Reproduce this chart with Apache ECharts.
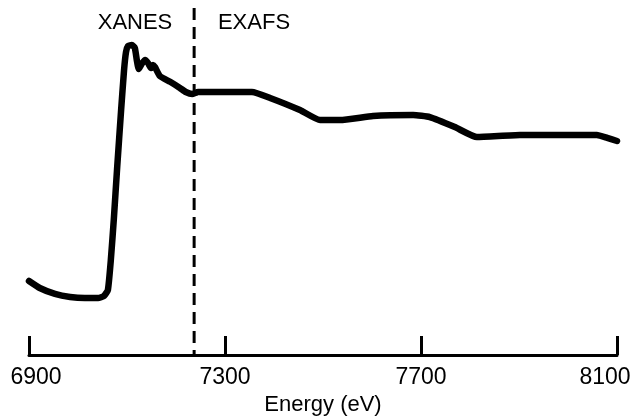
<!DOCTYPE html>
<html>
<head>
<meta charset="utf-8">
<script src="https://cdn.jsdelivr.net/npm/echarts@6/dist/echarts.min.js"></script>
<style>
  html, body { margin: 0; padding: 0; background: #fff; }
  #chart { width: 635px; height: 418px; }
</style>
</head>
<body>
<div id="chart"></div>
<script>
// X-ray absorption spectrum: energy (eV) vs normalized absorption
const energy = [
  6900, 6922, 6953, 6984, 7014, 7041, 7053, 7061, 7067, 7073,
  7080, 7088, 7094, 7098, 7102, 7110, 7116, 7120, 7124, 7130,
  7137, 7143, 7149, 7153, 7157, 7167, 7188, 7208, 7220, 7233,
  7245, 7355, 7392, 7453, 7494, 7535, 7602, 7684, 7718, 7769,
  7814, 7902, 8059, 8080, 8100
];
const absorption = [
  0.078, 0.044, 0.015, 0.000, -0.005, -0.005, 0.005, 0.034, 0.180, 0.376,
  0.634, 0.912, 1.107, 1.195, 1.224, 1.229, 1.215, 1.156, 1.112, 1.137,
  1.156, 1.141, 1.117, 1.132, 1.122, 1.078, 1.050, 1.020, 1.000, 0.990,
  1.000, 1.000, 0.971, 0.912, 0.863, 0.863, 0.883, 0.888, 0.878, 0.829,
  0.780, 0.790, 0.790, 0.776, 0.761
];

// Boundary between the XANES and EXAFS regions
const edgeDivider = 7237;
const dividerTop = 1.41;

const xTicks = [6900, 7300, 7700, 8100];
const yRange = [-0.283, 1.449];

const chart = echarts.init(document.getElementById('chart'));
const font = 'Liberation Sans, Arial, sans-serif';

chart.setOption({
  animation: false,
  backgroundColor: '#ffffff',
  grid: { left: 29, right: 18, top: 0, bottom: 63, outerBoundsMode: 'none', containLabel: false },
  xAxis: {
    type: 'value',
    min: xTicks[0],
    max: xTicks[xTicks.length - 1],
    interval: xTicks[1] - xTicks[0],
    name: 'Energy (eV)',
    nameLocation: 'middle',
    nameGap: 38,
    nameTextStyle: { color: '#000', fontSize: 22, fontFamily: font },
    axisLine: { show: true, onZero: false, lineStyle: { color: '#000', width: 3 } },
    axisTick: { show: true, inside: true, length: 19, lineStyle: { color: '#000', width: 3 } },
    axisLabel: {
      color: '#000',
      fontSize: 23,
      fontFamily: font,
      margin: 11,
      formatter: function (v) {
        if (v === xTicks[0]) return '{first|' + v + '}';
        if (v === xTicks[xTicks.length - 1]) return '{last|' + v + '}';
        return String(v);
      },
      rich: {
        first: { fontSize: 23, fontFamily: font, color: '#000', padding: [0, 0, 0, 14] },
        last: { fontSize: 23, fontFamily: font, color: '#000', padding: [0, 24, 0, 0] }
      }
    },
    splitLine: { show: false }
  },
  yAxis: {
    type: 'value',
    min: yRange[0],
    max: yRange[1],
    show: false,
    splitLine: { show: false }
  },
  graphic: [
    {
      type: 'text', x: 135, y: 23,
      style: { text: 'XANES', fill: '#000', font: '22px ' + font, align: 'center', verticalAlign: 'middle' }
    },
    {
      type: 'text', x: 254, y: 23,
      style: { text: 'EXAFS', fill: '#000', font: '22px ' + font, align: 'center', verticalAlign: 'middle' }
    }
  ],
  series: [
    {
      type: 'line',
      data: energy.map((e, i) => [e, absorption[i]]),
      showSymbol: false,
      smooth: 0.15,
      lineStyle: { color: '#000', width: 6.5, join: 'round', cap: 'round' },
      z: 3
    },
    {
      type: 'line',
      data: [[edgeDivider, dividerTop], [edgeDivider, yRange[0]]],
      showSymbol: false,
      lineStyle: { color: '#000', width: 3, type: [12, 7] },
      z: 2
    }
  ]
});
</script>
</body>
</html>
